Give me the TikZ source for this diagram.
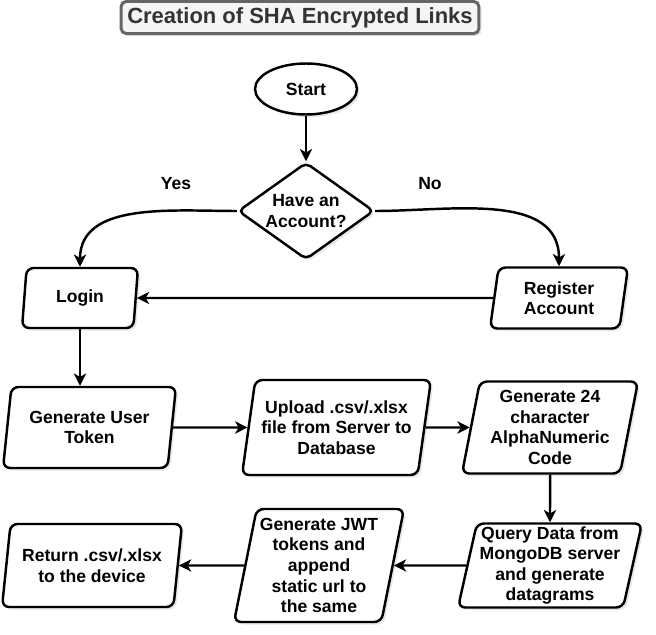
\documentclass[tikz,border=0pt]{standalone}
\usepackage{fontspec}
\setmainfont{Liberation Sans}
\usepackage{tikz}
\usetikzlibrary{shapes.geometric,arrows.meta,shadows}

\definecolor{titleline}{HTML}{666666}
\definecolor{titlefill}{HTML}{F5F5F5}
\definecolor{titletext}{HTML}{333333}

\tikzset{
	txt/.style={font=\fontsize{10}{11.7}\selectfont\bfseries, align=center},
	shade/.style={drop shadow={shadow xshift=1.5pt, shadow yshift=-1.5pt, fill=black!18}},
	box/.style={txt, shade, trapezium, trapezium left angle=77, trapezium right angle=103,
		trapezium stretches body, draw, line width=1.4pt, rounded corners=4pt, fill=white, inner sep=1pt},
	flow/.style={line width=1.4pt, -{Stealth[length=7pt,width=7pt,inset=2pt]}}
}

\begin{document}
\begin{tikzpicture}[x=0.02cm, y=-0.02cm]

	\useasboundingbox (0,0) rectangle (656,635);

	\node[draw=titleline, line width=1.7pt, fill=titlefill, text=titletext, rounded corners=3pt, shade,
		minimum width=7.16cm, minimum height=0.62cm, font=\fontsize{12.5}{14}\selectfont\bfseries] (title) at (300,17.5) {Creation of SHA Encrypted Links};

	\node[txt, shade, ellipse, draw, line width=1.4pt, fill=white, minimum width=2.04cm, minimum height=1.02cm] (start) at (306,89) {Start};
	\node[txt, shade, diamond, draw, line width=1.4pt, fill=white, aspect=1.4, inner sep=0pt, rounded corners=3pt,
		minimum width=2.72cm, minimum height=1.94cm] (acc) at (306,211) {Have an\\Account?};
	\node[txt] (yes) at (176,184) {Yes};
	\node[txt] (no) at (430,184) {No};

	\node[box, minimum width=2.32cm, minimum height=1.20cm] (login) at (80,298) {Login};
	\node[box, minimum width=2.76cm, minimum height=1.22cm] (reg) at (559,298) {Register\\Account};

	\node[box, minimum width=3.46cm, minimum height=1.62cm] (token) at (89.5,427.5) {Generate User\\Token};
	\node[box, minimum width=3.78cm, minimum height=1.90cm] (upload) at (336.5,427.5) {Upload .csv/.xlsx\\file from Server to\\Database};
	\node[box, minimum width=3.52cm, minimum height=1.84cm] (code) at (550,427.5) {Generate 24\\character\\AlphaNumeric\\Code};

	\node[box, minimum width=3.68cm, minimum height=1.68cm] (query) at (550,565.5) {Query Data from\\MongoDB server\\and generate\\datagrams};
	\node[box, minimum width=3.40cm, minimum height=2.26cm] (jwt) at (319,565.5) {Generate JWT\\tokens and\\append\\static url to\\the same};
	\node[box, minimum width=3.60cm, minimum height=1.66cm] (ret) at (92,565.5) {Return .csv/.xlsx\\to the device};

	\draw[flow] (start) -- (acc);
	\draw[flow] (acc.west) to[out=180, in=90] (login.north);
	\draw[flow] (acc.east) to[out=0, in=90] (reg.north);
	\draw[flow] (reg) -- (login);
	\draw[flow] (login.south) -- (login.south |- token.north);
	\draw[flow] (token) -- (upload);
	\draw[flow] (upload) -- (code);
	\draw[flow] (code) -- (query);
	\draw[flow] (query) -- (jwt);
	\draw[flow] (jwt) -- (ret);
\end{tikzpicture}
\end{document}
